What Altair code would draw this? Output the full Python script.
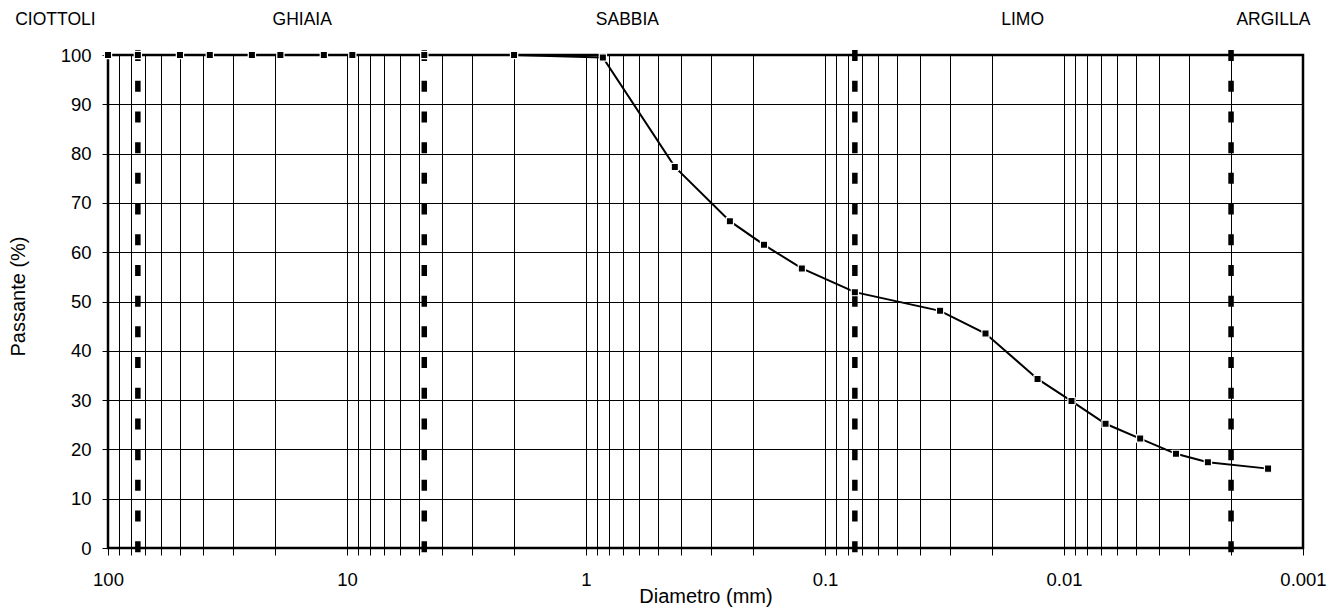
import altair as alt
import pandas as pd

# ---- data ----
diametro = [100, 75, 50, 37.5, 25, 19, 12.5, 9.5, 4.75, 2, 0.85, 0.425, 0.25, 0.18,
            0.125, 0.075, 0.033, 0.0213, 0.0129, 0.0093, 0.0067, 0.0048, 0.0034,
            0.0025, 0.0014]
passante = [100, 100, 100, 100, 100, 100, 100, 100, 100, 100, 99.5, 77.3, 66.3, 61.5,
            56.7, 51.9, 48.1, 43.5, 34.3, 29.8, 25.2, 22.2, 19.1, 17.4, 16.1]

limiti = [75, 4.75, 0.075, 0.002]
limiti_top = [101, 101, 101, 101]
limiti_bot = [-1, -1, -1, -1]

classi = ["CIOTTOLI", "GHIAIA", "SABBIA", "LIMO", "ARGILLA"]
classi_d = [166, 15.4, 0.671, 0.0149, 0.00133]

decadi = [-3, -2, -1, 0, 1]
multipli = [1, 2, 3, 4, 5, 6, 7, 8, 9]
x_ticks = [round(m * 10.0 ** k, 6) for k in decadi for m in multipli] + [100]
y_ticks = [0, 10, 20, 30, 40, 50, 60, 70, 80, 90, 100]

FONT = "Liberation Sans"

df_curve = pd.DataFrame({"d": diametro, "p": passante})
df_lim = pd.DataFrame({"d": limiti, "p": limiti_top, "p2": limiti_bot})
df_cls = pd.DataFrame({"d": classi_d, "t": classi})

xscale = alt.Scale(type="log", domain=[0.001, 100], reverse=True, nice=False)
yscale = alt.Scale(domain=[0, 100], nice=False, zero=False)

xaxis = alt.Axis(
    values=x_ticks,
    format="~g",
    labelExpr="abs(log(datum.value)/LN10 - round(log(datum.value)/LN10)) < 1e-6 ? datum.label : ''",
    grid=True, gridColor="black", gridWidth=1, gridOpacity=1,
    domain=False,
    ticks=True, tickColor="black", tickWidth=1, tickSize=7,
    labelFont=FONT, labelFontSize=18.5, labelColor="black", labelPadding=15,
    labelFlush=False, labelOverlap=False,
    title="Diametro (mm)", titleFont=FONT, titleFontSize=20, titleFontWeight="normal",
    titleColor="black", titleBaseline="alphabetic", titleY=54,
)
yaxis = alt.Axis(
    values=y_ticks,
    grid=True, gridColor="black", gridWidth=1, gridOpacity=1,
    domain=False,
    ticks=True, tickColor="black", tickWidth=1, tickSize=6,
    labelFont=FONT, labelFontSize=18.5, labelColor="black", labelPadding=11,
    title="Passante (%)", titleFont=FONT, titleFontSize=20, titleFontWeight="normal",
    titleColor="black", titleBaseline="alphabetic", titleX=-84, titleY=241,
    titleAngle=270,
)

X = alt.X("d:Q", scale=xscale, axis=xaxis)
Y = alt.Y("p:Q", scale=yscale, axis=yaxis)

limits = alt.Chart(df_lim).mark_rule(
    color="black", strokeWidth=5.5, strokeDash=[11, 19.7], strokeCap="butt"
).encode(x=X, y=Y, y2="p2:Q")

line = alt.Chart(df_curve).mark_line(color="black", strokeWidth=2).encode(x=X, y=Y)

points = alt.Chart(df_curve).mark_square(
    size=52, filled=True, color="black", stroke="white", strokeWidth=1.2, opacity=1
).encode(x=X, y=Y)

labels = alt.Chart(df_cls).mark_text(
    font=FONT, fontSize=17.5, color="black", align="center", baseline="alphabetic"
).encode(x=X, y=alt.value(-30), text="t:N")

chart = alt.layer(limits, line, points, labels).properties(
    width=1195, height=493,
    autosize=alt.AutoSizeParams(type="none"),
    padding={"left": 100, "top": 47, "right": 26, "bottom": 59},
    background="white",
).configure_view(stroke="black", strokeWidth=2.5)

chart.save("out.html", embed_options={"renderer": "svg", "actions": False})
